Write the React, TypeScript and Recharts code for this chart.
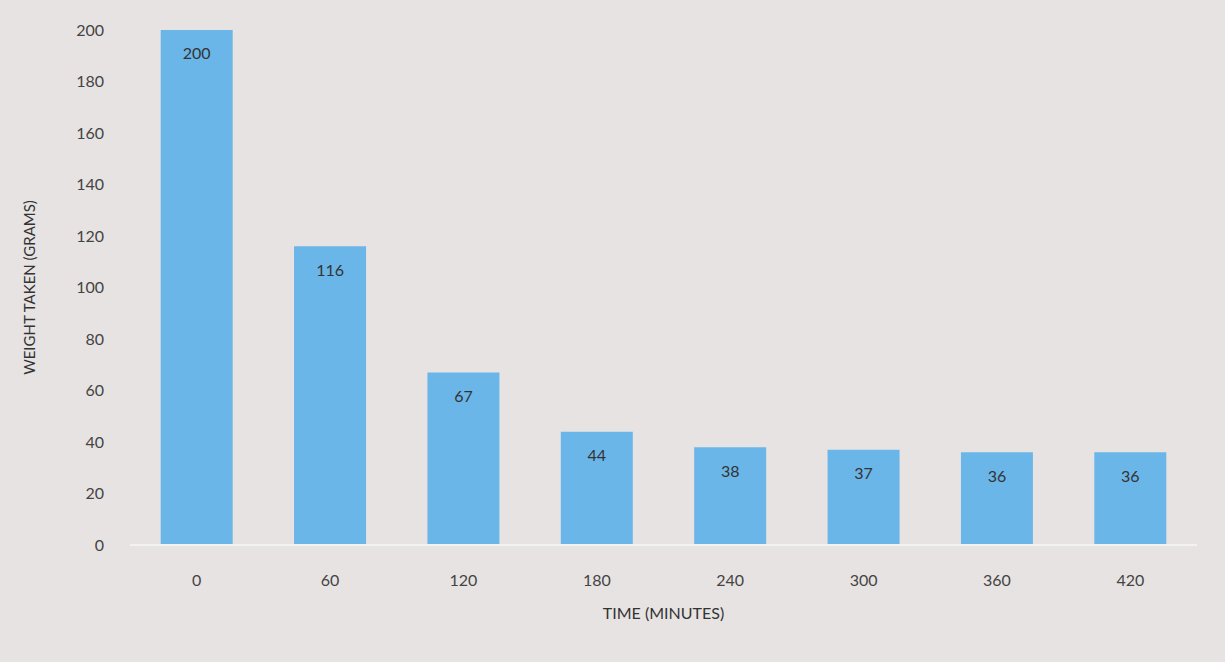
import React from "react";
import { BarChart, Bar, XAxis, YAxis, LabelList } from "recharts";

const times = ["0", "60", "120", "180", "240", "300", "360", "420"];
const weights = [200, 116, 67, 44, 38, 37, 36, 36];
const yTicks = [0, 20, 40, 60, 80, 100, 120, 140, 160, 180, 200];

const data = times.map((t, i) => ({ time: t, weight: weights[i] }));

const font = "Lato, 'Open Sans', sans-serif";

export default function App() {
  return (
    <div
      style={{
        position: "absolute",
        left: 0,
        top: 0,
        width: 1225,
        height: 662,
        background: "#e7e3e3",
        fontFamily: font,
      }}
    >
      <BarChart
        width={1225}
        height={662}
        data={data}
        margin={{ top: 30, right: 28, bottom: 57, left: 60 }}
        barCategoryGap="23%"
      >
        <XAxis
          dataKey="time"
          tickLine={false}
          axisLine={{ stroke: "#f2f2f2", strokeWidth: 2 }}
          tick={{ fill: "#444", fontSize: 16, fontFamily: font }}
          tickMargin={24}
          height={60}
          label={{
            value: "TIME (MINUTES)",
            position: "insideBottom",
            offset: -14,
            fill: "#333",
            fontSize: 16,
            fontFamily: font,
          }}
        />
        <YAxis
          domain={[0, 200]}
          ticks={yTicks}
          interval={0}
          tickLine={false}
          axisLine={false}
          width={70}
          tickMargin={20}
          tick={{ fill: "#444", fontSize: 16, fontFamily: font }}
          label={{
            value: "WEIGHT TAKEN (GRAMS)",
            angle: -90,
            position: "insideLeft",
            offset: -30,
            style: { textAnchor: "middle" },
            fill: "#333",
            fontSize: 15,
            fontFamily: font,
          }}
        />
        <Bar dataKey="weight" fill="#6bb6e8" isAnimationActive={false}>
          <LabelList
            dataKey="weight"
            position="insideTop"
            offset={18}
            fill="#333"
            fontSize={16}
            fontFamily={font}
          />
        </Bar>
      </BarChart>
    </div>
  );
}
